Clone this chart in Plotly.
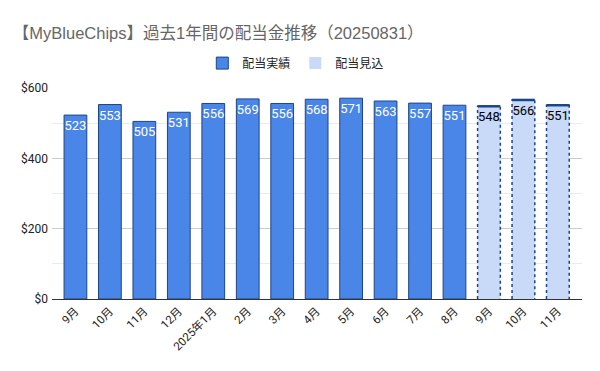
import plotly.graph_objects as go

title = "【MyBlueChips】過去1年間の配当金推移（20250831）"
months = ["9月", "10月", "11月", "12月", "2025年1月", "2月", "3月", "4月", "5月", "6月", "7月", "8月", "9月", "10月", "11月"]
actual = [523, 553, 505, 531, 556, 569, 556, 568, 571, 563, 557, 551]
forecast = [548, 566, 551]
y_ticks = [0, 200, 400, 600]
y_tick_labels = ["$0", "$200", "$400", "$600"]

FONT = "Roboto, 'Noto Sans CJK JP', sans-serif"
TFONT = "'Liberation Sans', Arial, 'Noto Sans CJK JP', sans-serif"
W = 0.66
xa = list(range(len(actual)))
xf = list(range(len(actual), len(actual) + len(forecast)))

fig = go.Figure()
fig.add_trace(go.Bar(
    x=xa, y=actual, name="配当実績", width=W,
    marker=dict(color="#4a86e8", line=dict(color="#1c4587", width=1)),
    text=[str(v) for v in actual], textposition="inside", insidetextanchor="end",
    textangle=0, textfont=dict(color="white", size=13, family=FONT),
))
fig.add_trace(go.Bar(
    x=xf, y=forecast, name="配当見込", width=W,
    marker=dict(color="#c9daf8", line=dict(width=0)),
    text=[str(v) for v in forecast], textposition="inside", insidetextanchor="end",
    textangle=0, textfont=dict(color="black", size=13, family=FONT),
))
# dotted outline and solid top for forecast bars
for x, v in zip(xf, forecast):
    fig.add_trace(go.Scatter(
        x=[x - W / 2, x - W / 2, x + W / 2, x + W / 2], y=[0, v, v, 0],
        mode="lines", line=dict(color="#1c4587", width=1.5, dash="dot"),
        showlegend=False, hoverinfo="skip"))
    fig.add_trace(go.Scatter(
        x=[x - W / 2, x + W / 2], y=[v, v],
        mode="lines", line=dict(color="#1c4587", width=2.5),
        showlegend=False, hoverinfo="skip"))

fig.update_layout(
    width=600, height=371,
    margin=dict(l=44, r=26, t=80, b=80, autoexpand=False),
    paper_bgcolor="white", plot_bgcolor="white",
    font=dict(family=FONT, color="#222222"),
    barmode="overlay",
    uniformtext=dict(mode="show", minsize=13),
    title=dict(text=title, x=0.008, xanchor="left", y=0.933, yanchor="middle",
               font=dict(size=16.5, color="#666666", family=TFONT)),
    legend=dict(orientation="h", x=0.46, xanchor="center", y=1.118, yanchor="middle",
                font=dict(size=12, color="#222222"), itemwidth=30),
    xaxis=dict(tickmode="array", tickvals=list(range(len(months))), ticktext=months,
               range=[-0.68, 14.70], tickangle=-45, tickfont=dict(size=11.5, color="#222222"),
               showgrid=False, showline=True, linecolor="#333333", linewidth=1, ticks="",
               automargin=False),
    yaxis=dict(range=[0, 600], tickmode="array", tickvals=y_ticks, ticktext=y_tick_labels,
               tickfont=dict(size=12, color="#222222"), gridcolor="#cccccc", gridwidth=1,
               minor=dict(dtick=100, showgrid=True, gridcolor="#ebebeb"),
               zeroline=False, ticks="", automargin=False, ticklabelstandoff=3),
)
fig.write_html("out.html")
